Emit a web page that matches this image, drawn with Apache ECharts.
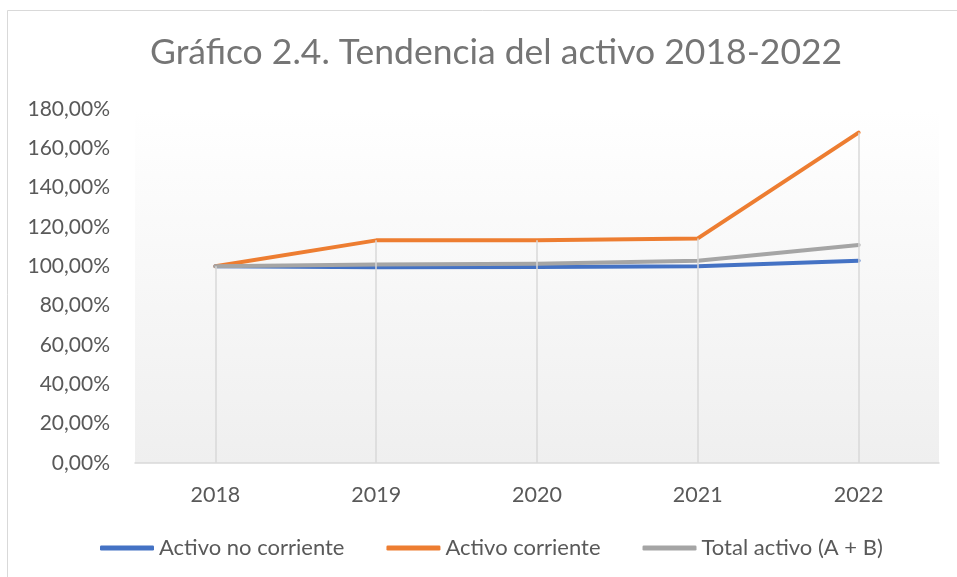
<!DOCTYPE html>
<html>
<head>
<meta charset="utf-8">
<script src="https://cdn.jsdelivr.net/npm/echarts@6/dist/echarts.min.js"></script>
<style>
html,body{margin:0;padding:0;background:#fff;}
#chart{width:957px;height:577px;}
</style>
</head>
<body>
<div id="chart"></div>
<script>
const titleText = 'Gráfico 2.4. Tendencia del activo 2018-2022';
const categories = ['2018', '2019', '2020', '2021', '2022'];
const seriesNames = ['Activo no corriente', 'Activo corriente', 'Total activo (A + B)'];
const activoNoCorriente = [100.0, 99.5, 99.7, 100.0, 102.9];
const activoCorriente = [100.0, 113.2, 113.3, 114.2, 168.0];
const totalActivo = [100.0, 100.9, 101.3, 102.8, 110.9];
const yTicks = [0, 20, 40, 60, 80, 100, 120, 140, 160, 180];

const allSeries = [activoNoCorriente, activoCorriente, totalActivo];
const dropTops = categories.map((c, i) => Math.max(...allSeries.map(s => s[i])));

const FONT = 'Lato, "Open Sans", sans-serif';
const chart = echarts.init(document.getElementById('chart'), null, {renderer: 'canvas'});

const lineSeries = (name, data, color) => ({
  name: name,
  type: 'line',
  data: data,
  symbol: 'none',
  z: 3,
  lineStyle: {color: color, width: 4, cap: 'round', join: 'round'},
  itemStyle: {color: color}
});

chart.setOption({
  animation: false,
  backgroundColor: '#ffffff',
  title: {
    text: titleText,
    left: 145,
    top: 30,
    textStyle: {fontFamily: FONT, fontSize: 35.5, fontWeight: 'normal', color: '#757575'}
  },
  graphic: [{
    type: 'rect',
    shape: {x: 7.5, y: 10.5, width: 960, height: 580},
    style: {fill: 'none', stroke: '#d9d9d9', lineWidth: 1},
    silent: true,
    z: -1
  }],
  legend: {
    data: seriesNames,
    bottom: 13,
    left: 95,
    itemWidth: 54,
    itemHeight: 5,
    itemGap: 42,
    icon: 'roundRect',
    textStyle: {fontFamily: FONT, fontSize: 22, color: '#595959'}
  },
  grid: {
    left: 135,
    right: 18,
    top: 109,
    bottom: 114,
    show: true,
    borderWidth: 0,
    backgroundColor: new echarts.graphic.LinearGradient(0, 0, 0, 1, [
      {offset: 0, color: '#ffffff'},
      {offset: 1, color: '#efefef'}
    ])
  },
  xAxis: {
    type: 'category',
    data: categories,
    boundaryGap: true,
    axisLine: {show: true, lineStyle: {color: '#d9d9d9', width: 1.5}},
    axisTick: {show: false},
    splitLine: {show: false},
    axisLabel: {fontFamily: FONT, fontSize: 21.5, color: '#595959', margin: 21}
  },
  yAxis: {
    type: 'value',
    min: yTicks[0],
    max: yTicks[yTicks.length - 1],
    interval: 20,
    axisLine: {show: false},
    axisTick: {show: false},
    splitLine: {show: false},
    axisLabel: {
      fontFamily: FONT, fontSize: 21, color: '#595959', margin: 25,
      formatter: v => v.toFixed(2).replace('.', ',') + '%'
    }
  },
  series: [
    {
      name: 'drop',
      type: 'line',
      data: [],
      z: 1,
      silent: true,
      markLine: {
        silent: true,
        symbol: ['none', 'none'],
        label: {show: false},
        lineStyle: {color: '#d9d9d9', width: 1.5, type: 'solid'},
        data: categories.map((c, i) => [
          {coord: [c, dropTops[i]]},
          {coord: [c, 0]}
        ])
      }
    },
    lineSeries(seriesNames[0], activoNoCorriente, '#4472C4'),
    lineSeries(seriesNames[1], activoCorriente, '#ED7D31'),
    lineSeries(seriesNames[2], totalActivo, '#A5A5A5')
  ]
});
</script>
</body>
</html>
